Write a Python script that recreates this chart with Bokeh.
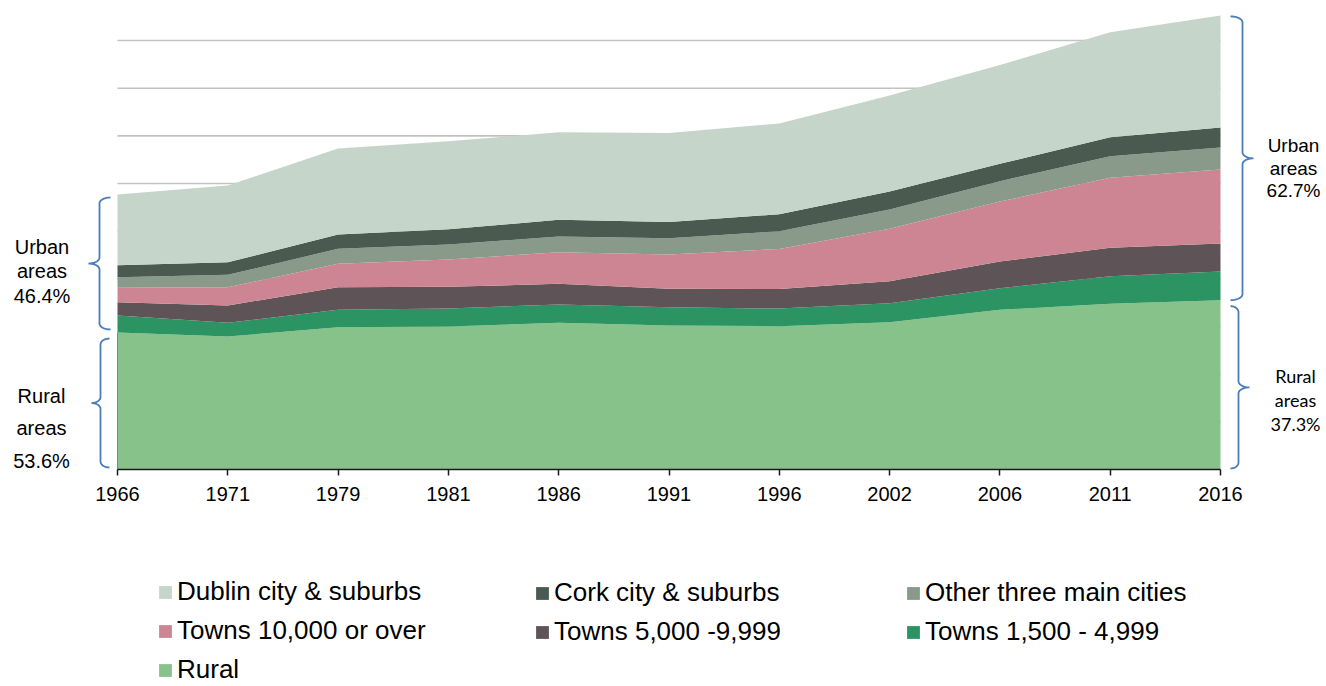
import numpy as np
from bokeh.plotting import figure
from bokeh.models import ColumnDataSource, Range1d, Legend, LegendItem, FixedTicker
from bokeh.core.properties import value
from bokeh.embed import file_html
from bokeh.resources import INLINE

# ---------------- data (population, thousands) ----------------
years = ["1966", "1971", "1979", "1981", "1986", "1991", "1996", "2002", "2006", "2011", "2016"]
rural = [1437, 1395, 1493, 1500, 1539, 1511, 1503, 1545, 1675, 1738, 1776]
towns_1500 = [178, 144, 183, 189, 192, 192, 185, 199, 227, 290, 301]
towns_5000 = [140, 181, 237, 227, 217, 193, 206, 231, 280, 298, 294]
towns_10000 = [151, 192, 245, 287, 331, 360, 420, 550, 629, 734, 776]
other_cities = [111, 130, 157, 157, 165, 171, 186, 202, 213, 227, 231]
cork = [126, 132, 150, 160, 175, 168, 178, 189, 183, 199, 210]
dublin = [742, 805, 902, 922, 919, 934, 952, 1007, 1036, 1101, 1175]

series_keys = ["rural", "towns_1500", "towns_5000", "towns_10000", "other_cities", "cork", "dublin"]
series_labels = ["Rural", "Towns 1,500 - 4,999", "Towns 5,000 -9,999", "Towns 10,000 or over",
                 "Other three main cities", "Cork city & suburbs", "Dublin city & suburbs"]
series_colors = ["#88c28b", "#2b9462", "#5e5458", "#cd8593", "#899a8b", "#4a5a50", "#c5d5c9"]

grid_values = [500, 1000, 1500, 2000, 2500, 3000, 3500, 4000, 4500]

left_urban_text = ["Urban", "areas", "46.4%"]
left_rural_text = ["Rural", "areas", "53.6%"]
right_urban_text = ["Urban", "areas", "62.7%"]
right_rural_text = ["Rural", "areas", "37.3%"]

# ---------------- layout helpers (canvas pixels) ----------------
W, H = 1326, 686
X0_PX, X1_PX = 117, 1220
BASE_PX = 469
PX_PER_K = 95.33 / 1000.0
ncat = len(years)
px_per_cat = (X1_PX - X0_PX) / (ncat - 1)


def dx(px):
    return (px - X0_PX) / px_per_cat


def dy(py):
    return (BASE_PX - py) / PX_PER_K


def py(v):
    return BASE_PX - v * PX_PER_K


p = figure(width=W, height=H, output_backend="svg", toolbar_location=None,
           x_range=Range1d(dx(0), dx(W)), y_range=Range1d(dy(H), dy(0)),
           y_axis_location=None,
           min_border_left=0, min_border_right=0, min_border_top=0, min_border_bottom=0)
p.outline_line_color = None
p.background_fill_color = "white"
p.border_fill_color = "white"
p.xgrid.visible = False
p.ygrid.visible = False

# gridlines across the category span
n = len(grid_values)
p.segment(x0=[0] * n, x1=[ncat - 1] * n, y0=grid_values, y1=grid_values,
          line_color="#c3c3c3", line_width=1.6)

source = ColumnDataSource(dict(
    x=list(range(ncat)), rural=rural, towns_1500=towns_1500, towns_5000=towns_5000,
    towns_10000=towns_10000, other_cities=other_cities, cork=cork, dublin=dublin))

renderers = p.varea_stack(stackers=series_keys, x="x", color=series_colors, source=source)

# thin left edge line of the plot area
p.segment(x0=[0], x1=[0], y0=[0], y1=[rural[0]], line_color="#7a8a7c", line_width=1)

# x axis drawn at y = 0 inside the frame
ax = p.xaxis[0]
ax.fixed_location = 0
ax.ticker = FixedTicker(ticks=list(range(ncat)))
ax.major_label_overrides = {i: y for i, y in enumerate(years)}
ax.bounds = (0, ncat - 1)
ax.minor_tick_line_color = None
ax.axis_line_color = "#1a1a1a"
ax.axis_line_width = 1.5
ax.major_tick_line_color = "#1a1a1a"
ax.major_tick_line_width = 1.5
ax.major_tick_out = 6
ax.major_tick_in = 0
ax.major_label_text_font = "Liberation Sans"
ax.major_label_text_font_size = "20px"
ax.major_label_text_color = "black"
ax.major_label_standoff = 11

# braces
totals = [sum(v) for v in zip(rural, towns_1500, towns_5000, towns_10000, other_cities, cork, dublin)]


def brace_points(x_end, x_spine, x_tip, y_top, y_bot, r=6, npts=12):
    ymid = (y_top + y_bot) / 2
    t = np.linspace(0, np.pi / 2, npts)
    s1x = x_end + (x_spine - x_end) * np.sin(t)
    s1y = y_top + r - r * np.cos(t)
    s2x = x_spine + (x_tip - x_spine) * (1 - np.cos(t))
    s2y = ymid - r + r * np.sin(t)
    s3x = s2x[::-1]
    s3y = (2 * ymid - s2y)[::-1]
    s4x = s1x[::-1]
    s4y = (2 * ymid - s1y)[::-1]
    xs = np.concatenate([s1x, s2x, s3x, s4x])
    ys = np.concatenate([s1y, s2y, s3y, s4y])
    return [dx(v) for v in xs], [dy(v) for v in ys]


gap = 3
braces = [
    (110, 99, 88, py(totals[0]) + gap, py(rural[0]) - gap),
    (109, 100, 91, py(rural[0]) + gap + 3, py(0) - 2),
    (1230, 1242, 1253, py(totals[-1]) + 1, py(rural[-1])),
    (1230, 1238, 1249, py(rural[-1]) + 6, py(0) - 1),
]
for b in braces:
    bx, by = brace_points(*b)
    p.line(bx, by, line_color="#4a7ebb", line_width=1.8)

# side texts
p.text(x=[dx(41.5)] * 3, y=[dy(246), dy(270), dy(295)], text=left_urban_text,
       text_font=value("Liberation Sans"), text_font_size="20px", text_color="black",
       text_align="center", text_baseline="middle")
p.text(x=[dx(41)] * 3, y=[dy(395), dy(427), dy(460)], text=left_rural_text,
       text_font=value("Liberation Sans"), text_font_size="20px", text_color="black",
       text_align="center", text_baseline="middle")
p.text(x=[dx(1293)] * 3, y=[dy(145), dy(168), dy(190)], text=right_urban_text,
       text_font=value("Liberation Sans"), text_font_size="19px", text_color="black",
       text_align="center", text_baseline="middle")
p.text(x=[dx(1295)] * 3, y=[dy(375), dy(399), dy(423)], text=right_rural_text,
       text_font=value("Lato"), text_font_size="18px", text_color="black",
       text_align="center", text_baseline="middle")

# legends: 3 columns, row-major in reverse stack order
order = list(zip(series_labels, renderers))[::-1]
col_x = [157, 534, 905]
row1_center = 594
item_h = 30
spacing = 8
for c in range(3):
    col_items = order[c::3]
    items = [LegendItem(label=lab, renderers=[r]) for lab, r in col_items]
    k = len(items)
    height = k * item_h + (k - 1) * spacing
    top = row1_center - item_h / 2
    vy = H - top - height
    leg = Legend(items=items, location=(col_x[c], vy), orientation="vertical",
                 glyph_width=16, glyph_height=16, label_height=item_h, spacing=spacing,
                 label_standoff=4, padding=0, margin=0,
                 label_text_font="Liberation Sans", label_text_font_size="26px",
                 label_text_color="black", border_line_color=None,
                 background_fill_alpha=0)
    p.add_layout(leg, "center")

open("out.html", "w").write(file_html(p, INLINE))
